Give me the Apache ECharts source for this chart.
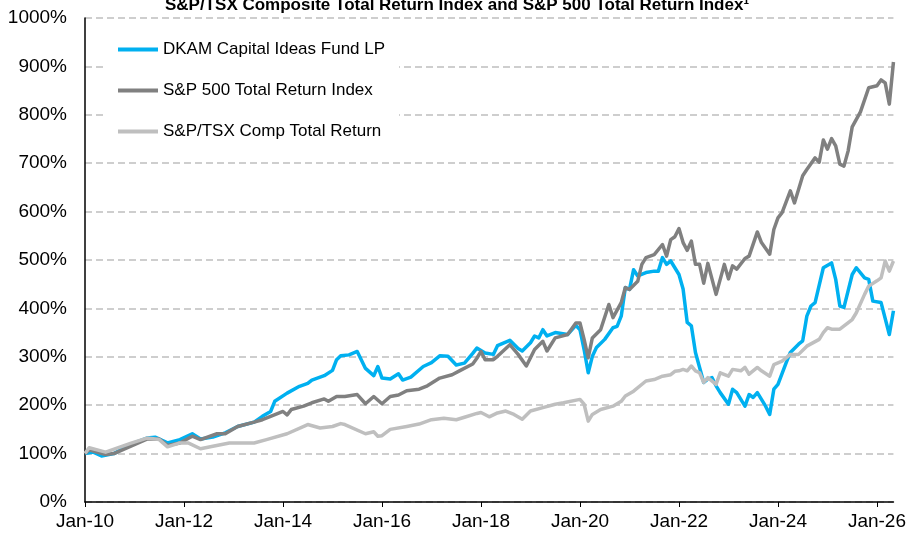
<!DOCTYPE html>
<html>
<head>
<meta charset="utf-8">
<script src="https://cdn.jsdelivr.net/npm/echarts@6/dist/echarts.min.js"></script>
<style>
html,body{margin:0;padding:0;background:#fff;}
#chart{width:909px;height:533px;}
</style>
</head>
<body>
<div id="chart"></div>
<script>
// Months counted from Jan-2010 (0 = Jan-10)
const dkamMonths = [0,2,4,7,11,15,17,20,23,26,28,31,34,37,41,43,45,46,49,52,54,55,58,60,61,62,64,66,68,70,71,72,74,76,77,79,82,84,86,88,90,92,94,95,97,99,100,103,105,106,108,109,110,111,112,114,117,119,120,121,122,123,124,126,128,129,130,131,132,133,134,136,138,139,140,141,142,144,145,146,147,148,150,151,152,153,154,156,157,158,160,161,162,163,165,166,167,168,170,171,173,174,175,176,177,179,181,182,183,184,186,187,189,190,191,193,195,196];
const dkamValues = [100,103,95,100,119,132,134,122,129,141,130,134,143,156,165,177,187,208,225,239,245,252,261,272,294,302,304,311,276,261,280,256,254,265,252,258,280,288,302,301,283,287,307,318,308,305,323,334,317,312,329,343,339,356,343,350,346,365,356,315,267,301,319,336,360,363,384,443,439,480,467,474,477,477,505,491,498,470,440,371,364,309,247,254,257,240,226,202,233,226,198,222,216,226,198,181,233,243,288,309,326,333,384,405,412,484,494,460,405,402,470,484,463,460,415,412,346,395];

const spMonths = [0,1,5,7,11,15,18,20,23,26,28,32,34,37,41,43,45,48,49,50,53,55,58,59,61,63,66,68,70,72,74,76,78,81,83,86,89,91,94,95,96,97,99,100,103,105,107,109,111,112,114,117,119,120,121,122,123,125,127,128,130,131,132,134,135,136,138,140,141,142,143,144,145,146,147,148,149,150,151,153,155,156,157,158,160,161,163,164,166,167,168,169,171,172,174,175,177,178,179,180,181,182,183,184,185,186,188,190,192,193,194,195,196];
const spValues = [100,108,98,100,115,130,130,117,122,136,129,141,141,156,165,170,177,187,180,191,198,205,213,208,218,218,222,203,218,203,218,221,230,233,240,256,263,272,285,297,311,294,294,301,325,305,281,315,332,312,339,346,370,370,336,298,339,356,408,381,412,443,439,456,491,505,511,532,508,542,548,565,536,520,539,491,491,452,493,429,491,461,488,481,503,508,558,536,512,563,587,598,643,618,674,687,711,702,748,729,751,736,698,694,725,775,806,856,860,872,866,822,909];

const tsxMonths = [0,1,5,11,15,18,20,23,25,28,31,35,41,44,49,54,57,60,62,63,68,70,71,72,74,78,81,84,87,90,92,95,96,98,100,102,104,106,108,111,114,116,120,121,122,123,125,128,130,131,133,136,138,140,142,143,144,145,146,147,148,149,150,151,153,154,156,157,159,160,161,163,164,166,167,169,171,173,175,178,179,180,181,183,186,187,189,190,192,193,194,195,196];
const tsxValues = [100,112,103,121,132,129,114,122,122,110,115,122,122,129,141,160,153,156,162,160,141,145,136,137,150,156,161,170,173,170,175,183,185,176,184,188,181,171,188,195,202,205,212,202,167,181,191,198,208,219,229,250,253,260,263,270,271,274,271,281,271,267,247,257,243,267,260,274,271,278,264,278,271,260,284,291,305,305,322,336,350,360,357,357,377,391,429,446,457,463,498,477,498];

const xTickLabels = ['Jan-10','Jan-12','Jan-14','Jan-16','Jan-18','Jan-20','Jan-22','Jan-24','Jan-26'];
const seriesNames = ['DKAM Capital Ideas Fund LP','S&P 500 Total Return Index','S&P/TSX Comp Total Return'];
const titleText = 'S&P/TSX Composite Total Return Index and S&P 500 Total Return Index\u00B9';

const FONT = '"Liberation Sans", Arial, sans-serif';
function pairs(xs, ys){ return xs.map((x,i)=>[x, ys[i]]); }

const chart = echarts.init(document.getElementById('chart'), null, {renderer:'canvas'});
chart.setOption({
  animation:false,
  backgroundColor:'#fff',
  title:{
    text:titleText,
    left:160, top:-8,
    textStyle:{fontFamily:FONT,fontSize:17,fontWeight:'bold',color:'#000'}
  },
  legend:{
    orient:'vertical',
    left:103, top:29,
    backgroundColor:'#fff',
    padding:[12,14,12,15],
    icon:'rect',
    itemWidth:40, itemHeight:4,
    itemGap:24,
    itemTextGap:4,
    data:seriesNames,
    textStyle:{fontFamily:FONT,fontSize:17,color:'#000'}
  },
  grid:{left:85,right:13,top:18,bottom:31,containLabel:false},
  xAxis:{
    type:'value',
    min:0, max:196, interval:24,
    axisLine:{show:true,lineStyle:{color:'#000',width:1.5}},
    axisTick:{show:true,length:5,lineStyle:{color:'#000',width:1}},
    splitLine:{show:false},
    axisLabel:{
      margin:10,
      fontFamily:FONT,fontSize:19,color:'#000',
      showMaxLabel:false,
      formatter:function(v){ const k=v/24; return Number.isInteger(k)&&xTickLabels[k]?xTickLabels[k]:''; }
    }
  },
  yAxis:{
    type:'value',
    min:0, max:1000, interval:100,
    axisLine:{show:true,lineStyle:{color:'#000',width:1.5}},
    axisTick:{show:false},
    splitLine:{show:true,lineStyle:{color:'#bfbfbf',width:1.5,type:[7,4]}},
    axisLabel:{margin:18,fontFamily:FONT,fontSize:19,color:'#000',formatter:function(v){ return String(v)+'%'; }}
  },
  series:[
    {name:seriesNames[0],type:'line',data:pairs(dkamMonths,dkamValues),showSymbol:false,symbol:'none',
     lineStyle:{color:'#00B0F0',width:3.5,join:'round'},itemStyle:{color:'#00B0F0'},z:2},
    {name:seriesNames[1],type:'line',data:pairs(spMonths,spValues),showSymbol:false,symbol:'none',
     lineStyle:{color:'#808080',width:3.5,join:'round'},itemStyle:{color:'#808080'},z:3},
    {name:seriesNames[2],type:'line',data:pairs(tsxMonths,tsxValues),showSymbol:false,symbol:'none',
     lineStyle:{color:'#BFBFBF',width:3.5,join:'round'},itemStyle:{color:'#BFBFBF'},z:4}
  ]
});
</script>
</body>
</html>
